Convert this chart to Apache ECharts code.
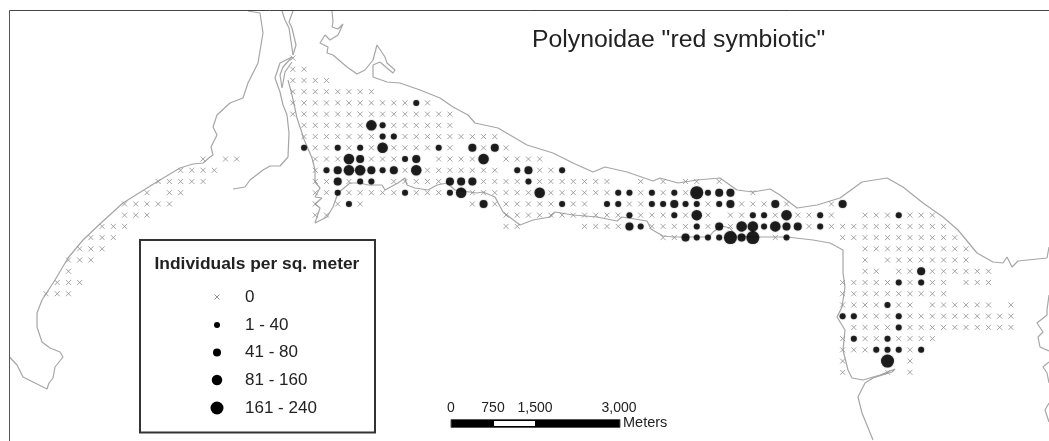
<!DOCTYPE html>
<html><head><meta charset="utf-8">
<style>html,body{margin:0;padding:0;background:#fff}#c{width:1049px;height:441px}</style>
<script src="https://cdn.jsdelivr.net/npm/echarts@6/dist/echarts.min.js"></script>
</head><body><div id="c"></div>
<script>
// Station grid: [col,row]. zero stations listed by row.
const zeroByRow = [
 [22],[22,23],[22,23,24,25],[22,23,24,25,26,27,28,29],
 [22,23,24,25,26,27,28,29,30,31,32,34],
 [22,23,24,25,26,27,28,29,30,31,32,33,34,35,36],
 [23,24,25,26,27,28,31,32,33,34,35,36],
 [23,24,25,26,27,28,29,32,33,34,35,36,37,38,39,40],
 [24,25,27,29,31,32,33,34,36,39,41],
 [14,16,17,24,25,26,29,30,31,35,36,37,38,41,42,43,44],
 [12,13,14,15,24,32,34,35,36,37,38,39,40,44,45],
 [10,11,12,13,14,24,25,27,31,32,33,34,35,39,40,41,42,44,45,46,47,48,49,50,53,55,57,58,60],
 [9,11,12,24,25,27,28,29,30,31,33,34,35,38,39,40,41,42,43,45,46,47,48,49,50,53,55,57,63],
 [7,8,9,10,11,24,26,28,38,40,41,42,43,44,45,47,48,52,53,59,62,63,64,66,70],
 [7,8,9,24,25,41,42,43,44,45,46,47,48,49,50,51,53,54,55,57,59,61,62,65,67,68,70,73,74,75,77,78,79],
 [5,6,7,41,42,48,49,50,51,54,55,56,57,59,61,68,70,71,72,73,74,75,76,77,78,79,80],
 [4,5,6,55,56,65,71,72,73,74,75,76,77,78,79,80,81],
 [3,4,5,73,74,75,76,77,78,79,80,81,82],
 [2,3,4,73,75,76,77,78,79,80,81,82],
 [2,73,74,76,77,79,80,81,82,83,84],
 [1,2,3,71,72,73,74,75,77,79,80,82,83,84],
 [0,1,2,71,72,73,74,75,76,77,78,79,80],
 [71,72,73,74,76,77,79,80,81,82,83,84,86],
 [73,74,75,77,78,79,80,81,82,83,84,85,86],
 [72,73,74,75,77,78,79,80,81,82,83,84,85,86],
 [71,73,74,76,77,78,79],
 [71,72,73,77],
 [71,77],
 [71,75,77]
];
const class1 = [[33,4],[30,6],[30,7],[31,7],[23,8],[26,8],[28,8],[35,8],[32,9],[25,10],[30,10],[42,10],[46,10],
 [28,11],[29,11],[43,11],[26,12],[32,12],[36,12],[51,12],[52,12],[54,12],[56,12],[59,12],
 [27,13],[46,13],[50,13],[51,13],[54,13],[55,13],[57,13],[58,13],[60,13],
 [52,14],[56,14],[63,14],[64,14],[69,14],[76,14],[53,15],[58,15],[64,15],[69,15],
 [58,16],[59,16],[60,16],[66,16],[76,20],[78,20],[75,22],[71,23],[72,23],[76,23],[76,24],
 [72,25],[75,25],[74,26],[75,26],[76,26],[78,26]];
const class2 = [[38,8],[40,8],[28,9],[33,9],[26,10],[29,10],[31,10],[43,10],[26,11],[36,11],[37,11],[38,11],
 [60,12],[61,12],[39,13],[56,13],[61,13],[65,13],[71,13],[52,15],[60,15],[66,15],[67,15],[57,16],[62,16],[78,19]];
const class3 = [[29,6],[30,8],[27,9],[39,9],[27,10],[28,10],[33,10],[37,12],[44,12],[58,14],[66,14],[62,15],[63,15],[65,15]];
const class4 = [[58,12],[61,16],[63,16],[75,27]];

// Shorelines, in map units
const coastWest = [[9.5,357],[17,365],[23,377],[33,382],[47,389],[49,383],[53,378],[55,367],[63,357],[60,352],[50,348],[42,342],[37,327],[37,313],[42,300],[55,280],[68,258],[83,240],[102,222],[123,203],[147,188],[160,180],[180,168],[193,164],[203,163],[210,157],[213,155],[212,154],[211,147],[217,135],[213,127],[217,115],[230,103],[243,98],[248,83],[258,63],[263,33],[260,13],[248,11]];
const coastRiver = [[233,189],[245,187],[250,180],[263,170],[270,166],[280,166],[288,157],[289,133],[287,115],[283,105],[280,92],[275,78],[280,63],[292,57]];
const coastSpit = [[292,57],[283,67],[280,75],[282,88],[283,83],[285,72],[292,62]];
const channelA = [[282,11],[285,20],[289,28],[292,48],[293,55]];
const channelB = [[293,11],[289,22],[292,28],[296,45],[293,55]];
const coastMain = [[288,80],[292,95],[297,118],[302,133],[303,137],[312,158],[315,170],[315,182],[320,188],[315,197],[322,198],[315,204],[320,208],[315,223],[327,217],[333,207],[338,193],[350,183],[360,183],[368,185],[382,185],[385,190],[398,183],[405,178],[407,185],[415,188],[428,190],[437,185],[447,183],[455,190],[477,193],[483,192],[495,197],[503,212],[520,225],[533,220],[550,217],[555,212],[573,215],[597,217],[617,221],[622,217],[647,221],[651,229],[663,236],[673,237],[697,237],[709,237],[713,232],[722,226],[730,228],[736,236],[753,237],[787,237],[813,240],[830,243],[843,250],[843,273],[845,287],[842,307],[837,317],[845,330],[843,350],[848,370],[852,378],[863,380],[880,375],[895,369],[892,372],[873,378],[865,383],[858,397],[862,413],[873,440]];
const coastNorth = [[332,11],[333,22],[332,27],[338,29],[343,24],[338,35],[330,40],[325,35],[320,43],[328,47],[327,53],[333,55],[347,67],[357,74],[365,70],[373,60],[377,45],[378,45],[385,57],[387,63],[395,70],[393,73],[387,68],[380,62],[373,65],[373,77],[387,82],[400,83],[420,90],[440,98],[453,107],[468,115],[475,123],[498,128],[527,145],[553,153],[573,163],[593,172],[605,167],[627,172],[653,181],[660,178],[678,183],[697,180],[720,178],[737,190],[753,192],[770,189],[780,195],[797,208],[817,205],[840,198],[862,182],[887,178],[903,187],[923,203],[943,217],[958,230],[977,253],[993,262],[1003,263],[1007,257],[1012,267],[1018,261],[1047,258],[1049,247]];
const islandA = [[1049,295],[1047,310],[1047,315],[1037,323],[1043,332],[1038,337],[1040,347],[1049,351]];
const islandB = [[1049,362],[1043,367],[1047,373],[1049,383]];
const islandC = [[1049,403],[1045,410],[1049,422]];

const legendLabels = ['0','1 - 40','41 - 80','81 - 160','161 - 240'];
const scaleLabels = ['0','750','1,500','3,000'];
const titleText = 'Polynoidae "red symbiotic"';
const legendTitle = 'Individuals per sq. meter';
const scaleUnit = 'Meters';

const W=1049,H=441,X0=46,Y0=58,DX=11.22,DY=11.225;
const FONT='"Liberation Sans", Arial, sans-serif';
const GRAY='#a6a6a6', TXT='#222';
const sizes=[6,8,10.5,13];
const xPath='path://M0 0L10 10M10 0L0 10';

const zeroPts=[];
zeroByRow.forEach((cols,r)=>cols.forEach(c=>zeroPts.push([c,r])));

function coast(name,data){return {type:'line',name,data,xAxisIndex:0,yAxisIndex:0,showSymbol:false,silent:true,smooth:false,z:1,
  lineStyle:{color:GRAY,width:1.2},animation:false};}
function dots(name,data,size){return {type:'scatter',name,data,xAxisIndex:1,yAxisIndex:1,symbol:'circle',symbolSize:size,z:4,
  itemStyle:{color:'#000',shadowBlur:1.5,shadowColor:'rgba(0,0,0,0.6)'},animation:false,silent:true};}

const series=[
 coast('coastWest',coastWest),coast('coastRiver',coastRiver),coast('coastSpit',coastSpit),
 coast('channelA',channelA),coast('channelB',channelB),coast('coastMain',coastMain),coast('coastNorth',coastNorth),
 coast('islandA',islandA),coast('islandB',islandB),coast('islandC',islandC),
 {type:'scatter',name:'0',data:zeroPts,xAxisIndex:1,yAxisIndex:1,symbol:xPath,symbolSize:5,z:3,silent:true,animation:false,
  itemStyle:{color:'rgba(0,0,0,0)',borderColor:'#8f8f8f',borderWidth:1}},
 dots('1 - 40',class1,sizes[0]),dots('41 - 80',class2,sizes[1]),dots('81 - 160',class3,sizes[2]),dots('161 - 240',class4,sizes[3])
];

const txt=(x,y,t,size,extra)=>({type:'text',x,y,silent:true,z:20,style:Object.assign({text:t,font:size+'px '+FONT,fill:TXT,verticalAlign:'middle'},extra||{})});
const legendY=[297,325,352.5,380,408];
const graphic=[
 {type:'line',silent:true,z:20,shape:{x1:9.5,y1:10.5,x2:W,y2:10.5},style:{stroke:'#444',lineWidth:1}},
 {type:'line',silent:true,z:20,shape:{x1:9.5,y1:10.5,x2:9.5,y2:H},style:{stroke:'#555',lineWidth:1}},
 txt(532,40,titleText,24.8),
 {type:'rect',silent:true,z:19,shape:{x:140,y:240,width:235,height:192.5},style:{fill:'#fff',stroke:'#333',lineWidth:2}},
 txt(154.5,264.5,legendTitle,17.4,{font:'bold 17.4px '+FONT}),
 {type:'line',silent:true,z:20,shape:{x1:214.5,y1:294.5,x2:219.5,y2:299.5},style:{stroke:'#8f8f8f',lineWidth:1}},
 {type:'line',silent:true,z:20,shape:{x1:219.5,y1:294.5,x2:214.5,y2:299.5},style:{stroke:'#8f8f8f',lineWidth:1}},
 {type:'circle',silent:true,z:20,shape:{cx:217,cy:legendY[1],r:sizes[0]/2},style:{fill:'#000'}},
 {type:'circle',silent:true,z:20,shape:{cx:217,cy:legendY[2],r:sizes[1]/2},style:{fill:'#000'}},
 {type:'circle',silent:true,z:20,shape:{cx:217,cy:legendY[3],r:sizes[2]/2},style:{fill:'#000'}},
 {type:'circle',silent:true,z:20,shape:{cx:217,cy:legendY[4],r:sizes[3]/2},style:{fill:'#000'}},
 ...legendLabels.map((t,i)=>txt(245,legendY[i],t,17)),
 {type:'rect',silent:true,z:20,shape:{x:451,y:419.5,width:169,height:8},style:{fill:'#000',stroke:'#555',lineWidth:1}},
 {type:'rect',silent:true,z:21,shape:{x:494,y:421,width:41,height:5},style:{fill:'#fff'}},
 ...[451,493,535,619].map((x,i)=>txt(x,408,scaleLabels[i],14,{align:'center'})),
 txt(623,422.5,scaleUnit,14.5)
];

const chart=echarts.init(document.getElementById('c'),null,{renderer:'canvas'});
chart.setOption({
 animation:false,backgroundColor:'#fff',
 grid:{left:0,right:0,top:0,bottom:0,containLabel:false},
 tooltip:{show:false},
 xAxis:[
  {type:'value',min:0,max:W,show:false},
  {type:'value',min:-X0/DX,max:(W-X0)/DX,show:false}
 ],
 yAxis:[
  {type:'value',min:0,max:H,inverse:true,show:false},
  {type:'value',min:-Y0/DY,max:(H-Y0)/DY,inverse:true,show:false}
 ],
 series,graphic
});
</script></body></html>
